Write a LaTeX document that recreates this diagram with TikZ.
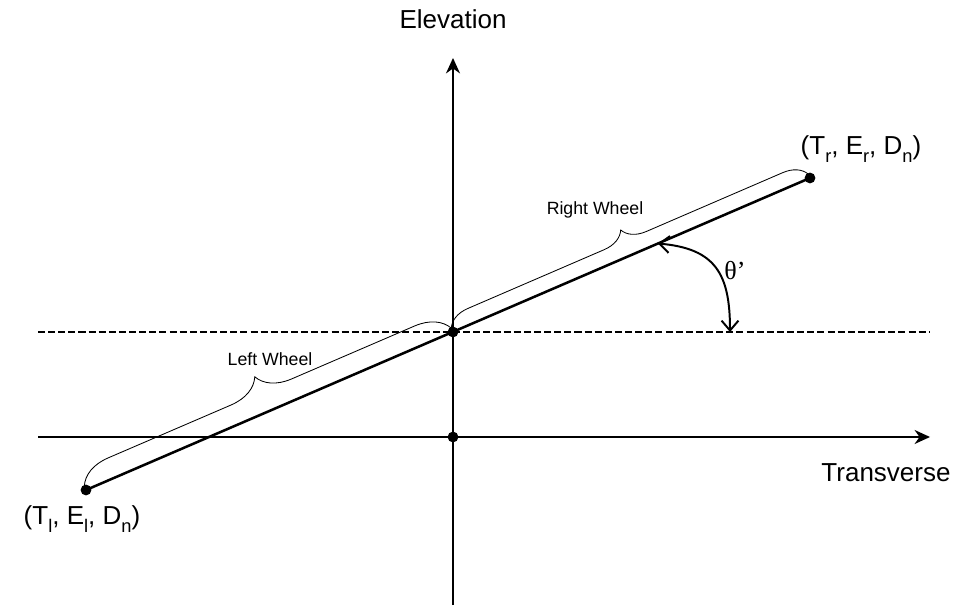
\documentclass[tikz,border=0pt]{standalone}
\usepackage{fontspec}
\setmainfont{Liberation Sans}
\newfontfamily\thetafont{Liberation Serif}
\usetikzlibrary{arrows.meta,decorations.pathreplacing}
\newcommand{\wsub}[1]{\raisebox{-0.3em}{\fontsize{13}{15}\selectfont #1}}

\begin{document}
\begin{tikzpicture}[line width=1.1pt,
    dot/.style={circle, fill, inner sep=0pt, minimum size=0.27cm},
    axis/.style={-{Stealth[length=11pt,width=10pt]}},
    wheelbrace/.style={decorate, decoration={brace, amplitude=#1, raise=3pt}, line width=0.6pt},
    lbl/.style={font=\fontsize{18.5}{22}\selectfont, anchor=base},
    small/.style={font=\fontsize{12.6}{15}\selectfont, anchor=base}]
  \useasboundingbox (0,0) rectangle (23.9,15.125);
  % axes and level line
  \coordinate (xs) at (0.95,4.2);
  \coordinate (xe) at (23.25,4.2);
  \coordinate (ys) at (11.325,0);
  \coordinate (ye) at (11.325,13.675);
  \coordinate (hs) at (0.95,6.825);
  \coordinate (he) at (23.25,6.825);
  \draw[axis] (xs) -- (xe);
  \draw[axis] (ys) -- (ye);
  \draw[dash pattern=on 5pt off 2.2pt, line width=1.5pt] (hs) -- (he);
  % wheel points
  \node[dot] (A) at (11.325,4.2) {};
  \node[dot] (O) at (11.325,6.825) {};
  \node[dot] (L) at (2.15,2.875) {};
  \node[dot] (R) at (20.25,10.675) {};
  \draw[line width=1.8pt] (L.center) -- coordinate[pos=0.79] (as) (R.center);
  \draw[wheelbrace=0.575cm] (O.center) -- (R.center);
  \draw[wheelbrace=0.825cm] (L.center) -- (O.center);
  % angle
  \coordinate (ae) at (18.25,6.825);
  \draw[{Straight Barb[length=7pt,width=12pt]}-{Straight Barb[length=7pt,width=12pt]}, line width=1.4pt]
    (as) to[out=-5, in=90, looseness=1.3] (ae);
  % labels
  \node[lbl] (elev) at (11.325,14.4) {Elevation};
  \node[lbl] (trans) at (22.15,3.075) {Transverse};
  \node[lbl] (rlab) at (21.525,11.25) {(T\wsub{r}, E\wsub{r}, D\wsub{n})};
  \node[lbl] (llab) at (2.05,2.0) {(T\wsub{l}, E\wsub{l}, D\wsub{n})};
  \node[small] (rw) at (14.875,9.75) {Right Wheel};
  \node[small] (lw) at (6.75,5.975) {Left Wheel};
  \node[lbl, font=\thetafont\fontsize{18.5}{22}\selectfont] (theta) at (18.375,8.125) {θ’};
\end{tikzpicture}
\end{document}
